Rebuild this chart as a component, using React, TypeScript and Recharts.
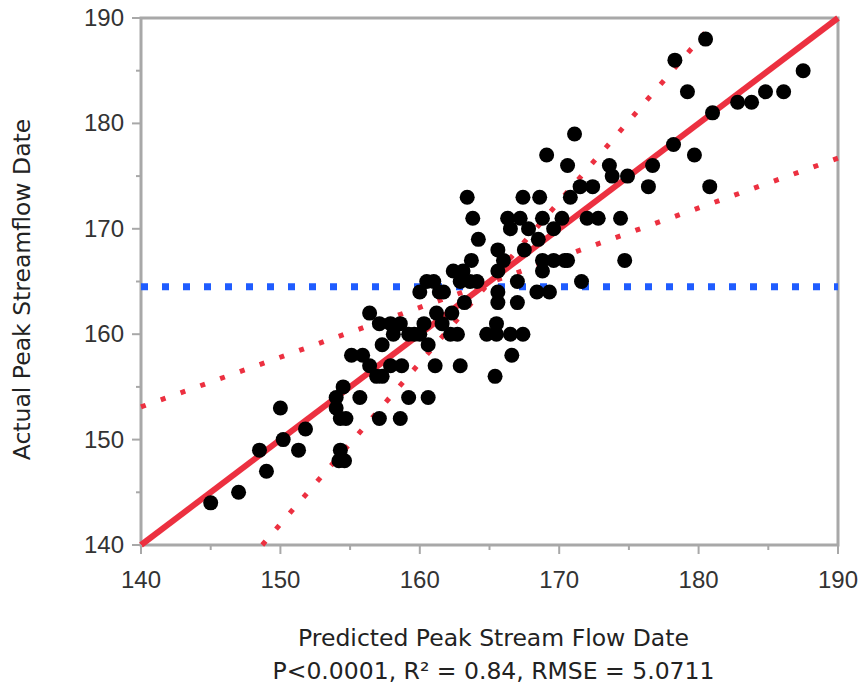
import React from 'react';
import {
  ScatterChart,
  Scatter,
  XAxis,
  YAxis,
  ReferenceLine,
  ReferenceArea,
} from 'recharts';

// predicted vs actual peak streamflow date (day of year)
const predicted = [
  145.0, 147.0, 149.0, 148.5, 150.2, 150.0, 151.3, 151.8,
  154.5, 154.0, 154.0, 154.3, 154.7, 155.7, 154.3, 154.2, 154.6,
  155.1, 155.9, 156.4, 156.9, 157.3, 157.9, 158.7, 161.1, 162.9,
  157.1, 158.6, 159.2, 160.6, 165.4,
  156.4, 157.1, 157.9, 157.3, 158.1, 158.6, 159.2, 159.6, 160.0, 160.6, 160.3, 161.2, 161.6, 162.2, 162.7, 162.3, 163.2,
  160.0, 160.5, 161.0, 161.4, 161.7,
  162.4, 163.1, 162.9, 164.1, 163.6,
  163.4, 163.8, 164.2, 163.7,
  165.6, 166.0, 165.6, 165.6, 165.6, 167.0, 167.0, 168.4, 169.3, 171.6,
  165.5, 164.8, 165.5, 166.5, 167.4, 166.6,
  167.5, 168.5, 168.8, 169.6, 170.6, 168.8,
  167.4, 168.6, 166.3, 167.2, 167.8, 166.5, 168.8, 169.6, 170.2,
  170.8, 172.0, 172.8, 171.5, 172.4, 174.4, 174.7, 170.4,
  169.1, 171.1, 170.6, 173.6, 173.8, 174.9, 176.7, 176.4,
  178.2, 179.7, 180.8, 181.0, 178.3, 179.2, 180.5, 182.8, 183.8, 184.8, 186.1, 187.5,
];
const actual = [
  144, 145, 147, 149, 150, 153, 149, 151,
  155, 154, 153, 152, 152, 154, 149, 148, 148,
  158, 158, 157, 156, 156, 157, 157, 157, 157,
  152, 152, 154, 154, 156,
  162, 161, 161, 159, 160, 161, 160, 160, 160, 159, 161, 162, 161, 160, 160, 162, 163,
  164, 165, 165, 164, 164,
  166, 166, 165, 165, 165,
  173, 171, 169, 167,
  168, 167, 166, 164, 163, 165, 163, 164, 164, 165,
  161, 160, 160, 160, 160, 158,
  168, 169, 167, 167, 167, 166,
  173, 173, 171, 171, 170, 170, 171, 170, 171,
  173, 171, 171, 174, 174, 171, 167, 167,
  177, 179, 176, 176, 175, 175, 176, 174,
  178, 177, 174, 181, 186, 183, 188, 182, 182, 183, 183, 185,
];

const fitLine = [{ x: 140, y: 140 }, { x: 190, y: 190 }];
const ciUpper = [{ x: 148.7, y: 140 }, { x: 180.6, y: 188.8 }];
const ciLower = [{ x: 140, y: 153.1 }, { x: 190, y: 176.7 }];
const meanActual = 164.5;

const axisTicks = [140, 145, 150, 155, 160, 165, 170, 175, 180, 185, 190];

const data = predicted.map((x, i) => ({ x, y: actual[i] }));

const TICK_FONT = '"Liberation Sans", Arial, sans-serif';
const TITLE_FONT = '"DejaVu Sans", Verdana, sans-serif';
const FRAME = '#a8a8a8';
const RED = '#ec3040';

const XTick = (props: any) => {
  const { x, y, payload } = props;
  const major = payload.value % 10 === 0;
  return (
    <g>
      <line x1={x} x2={x} y1={y} y2={y + (major ? 9 : 5)} stroke={FRAME} strokeWidth={2} />
      {major && (
        <text x={x} y={y + 43} textAnchor="middle" fontSize={24} fill="#333" fontFamily={TICK_FONT}>
          {payload.value}
        </text>
      )}
    </g>
  );
};

const YTick = (props: any) => {
  const { x, y, payload } = props;
  const major = payload.value % 10 === 0;
  return (
    <g>
      <line x1={x} x2={x - (major ? 9 : 5)} y1={y} y2={y} stroke={FRAME} strokeWidth={2} />
      {major && (
        <text x={x - 17} y={y + 8} textAnchor="end" fontSize={24} fill="#333" fontFamily={TICK_FONT}>
          {payload.value}
        </text>
      )}
    </g>
  );
};

const Dot = (props: any) => <circle cx={props.cx} cy={props.cy} r={7.5} fill="#000" />;

export default function App() {
  return (
    <div style={{ position: 'absolute', left: 0, top: 0, background: '#fff' }}>
      <ScatterChart width={863} height={689} margin={{ top: 18, right: 25, bottom: 0, left: 0 }}>
        <XAxis
          type="number"
          dataKey="x"
          domain={[140, 190]}
          ticks={axisTicks}
          interval={0}
          height={144}
          tickSize={0}
          tickMargin={0}
          axisLine={false}
          tick={<XTick />}
          allowDataOverflow
          label={{
            content: (p: any) => {
              const vb = p.viewBox;
              const cx = vb.x + vb.width / 2 + 4;
              return (
                <g fontFamily={TITLE_FONT} fontSize={23.5} fill="#222" textAnchor="middle">
                  <text x={cx} y={vb.y + 101}>Predicted Peak Stream Flow Date</text>
                  <text x={cx} y={vb.y + 134}>P&lt;0.0001, R² = 0.84, RMSE = 5.0711</text>
                </g>
              );
            },
          }}
        />
        <YAxis
          type="number"
          dataKey="y"
          domain={[140, 190]}
          ticks={axisTicks}
          interval={0}
          width={141}
          tickSize={0}
          tickMargin={0}
          axisLine={false}
          tick={<YTick />}
          allowDataOverflow
          label={{
            content: (p: any) => {
              const vb = p.viewBox;
              const cy = vb.y + vb.height / 2 + 8;
              return (
                <text
                  x={30}
                  y={cy}
                  transform={`rotate(-90, 30, ${cy})`}
                  textAnchor="middle"
                  fontFamily={TITLE_FONT}
                  fontSize={23.5}
                  fill="#222"
                >
                  Actual Peak Streamflow Date
                </text>
              );
            },
          }}
        />
        <ReferenceArea x1={140} x2={190} y1={140} y2={190} fill="none" stroke={FRAME} strokeWidth={3} />
        <ReferenceLine y={meanActual} stroke="#1f5cff" strokeWidth={7} strokeDasharray="7 14" />
        <ReferenceLine segment={ciUpper} stroke={RED} strokeWidth={5} strokeDasharray="5 16" />
        <ReferenceLine segment={ciLower} stroke={RED} strokeWidth={5} strokeDasharray="5 16" />
        <ReferenceLine segment={fitLine} stroke={RED} strokeWidth={6} />
        <Scatter data={data} shape={<Dot />} isAnimationActive={false} />
      </ScatterChart>
    </div>
  );
}
